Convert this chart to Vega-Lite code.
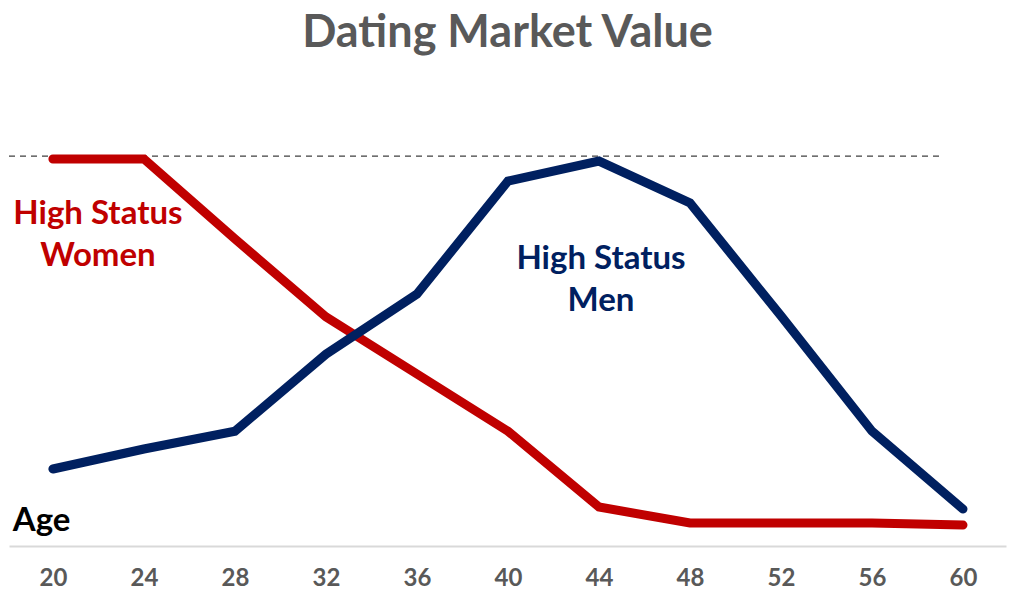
{
  "$schema": "https://vega.github.io/schema/vega-lite/v6.json",
  "width": 997,
  "height": 445,
  "padding": {"left": 8, "right": 15, "top": 11, "bottom": 0},
  "background": "white",
  "title": {"text": "Dating Market Value", "font": "Lato", "fontSize": 45, "fontWeight": "bold", "color": "#595959", "anchor": "middle", "offset": 45},
  "config": {"view": {"stroke": null}},
  "data": {"values": [
      {"kind": "line", "age": 20, "value": 86.97, "group": "Women"},
      {"kind": "line", "age": 24, "value": 86.97, "group": "Women"},
      {"kind": "line", "age": 28, "value": 69.0, "group": "Women"},
      {"kind": "line", "age": 32, "value": 51.5, "group": "Women"},
      {"kind": "line", "age": 36, "value": 38.65, "group": "Women"},
      {"kind": "line", "age": 40, "value": 25.8, "group": "Women"},
      {"kind": "line", "age": 44, "value": 8.76, "group": "Women"},
      {"kind": "line", "age": 48, "value": 5.17, "group": "Women"},
      {"kind": "line", "age": 52, "value": 5.17, "group": "Women"},
      {"kind": "line", "age": 56, "value": 5.17, "group": "Women"},
      {"kind": "line", "age": 60, "value": 4.72, "group": "Women"},
      {"kind": "line", "age": 20, "value": 17.3, "group": "Men"},
      {"kind": "line", "age": 24, "value": 21.8, "group": "Men"},
      {"kind": "line", "age": 28, "value": 25.8, "group": "Men"},
      {"kind": "line", "age": 32, "value": 43.1, "group": "Men"},
      {"kind": "line", "age": 36, "value": 56.6, "group": "Men"},
      {"kind": "line", "age": 40, "value": 82.0, "group": "Men"},
      {"kind": "line", "age": 44, "value": 86.5, "group": "Men"},
      {"kind": "line", "age": 48, "value": 77.1, "group": "Men"},
      {"kind": "line", "age": 52, "value": 51.7, "group": "Men"},
      {"kind": "line", "age": 56, "value": 25.8, "group": "Men"},
      {"kind": "line", "age": 60, "value": 8.3, "group": "Men"},
      {"kind": "note", "age": 21.98, "value": 74.6, "label": "High Status", "group": "Women"},
      {"kind": "note", "age": 21.98, "value": 65.2, "label": "Women", "group": "Women"},
      {"kind": "note", "age": 44.09, "value": 64.5, "label": "High Status", "group": "Men"},
      {"kind": "note", "age": 44.09, "value": 55.1, "label": "Men", "group": "Men"},
      {"kind": "note", "age": 19.5, "value": 5.6, "label": "Age", "group": "Axis"},
      {"kind": "ref", "age": 18.07, "end": 59.03, "value": 87.6, "group": "Ref"}
  ]},
  "encoding": {
    "x": {"field": "age", "type": "quantitative", "scale": {"domain": [18.07, 61.89], "nice": false, "zero": false},
      "axis": {"values": [20, 24, 28, 32, 36, 40, 44, 48, 52, 56, 60], "title": null, "grid": false, "ticks": false, "domainColor": "#d9d9d9", "domainWidth": 2, "labelFont": "Lato", "labelFontSize": 24, "labelFontWeight": "bold", "labelColor": "#595959", "labelPadding": 20}},
    "y": {"field": "value", "type": "quantitative", "scale": {"domain": [0, 100], "nice": false}, "axis": null}
  },
  "layer": [
    {
      "transform": [{"filter": "datum.kind == 'ref'"}],
      "mark": {"type": "rule", "strokeDash": [6, 5], "color": "#404040", "strokeWidth": 1.3},
      "encoding": {
        "x2": {"field": "end"}
      }
    },
    {
      "transform": [{"filter": "datum.kind == 'line'"}],
      "mark": {"type": "line", "strokeWidth": 9, "strokeCap": "round"},
      "encoding": {
        "color": {"field": "group", "type": "nominal", "scale": {"domain": ["Women", "Men", "Axis"], "range": ["#c00000", "#002060", "#000000"]}, "legend": null}
      }
    },
    {
      "transform": [{"filter": "datum.kind == 'note'"}],
      "mark": {"type": "text", "font": "Lato", "fontSize": 33, "fontWeight": "bold", "align": "center", "baseline": "middle"},
      "encoding": {
        "text": {"field": "label"},
        "color": {"field": "group", "type": "nominal", "legend": null}
      }
    }
  ]
}
